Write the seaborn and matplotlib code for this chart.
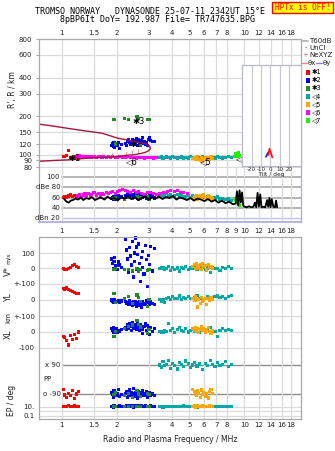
import matplotlib
matplotlib.use("Agg")
import matplotlib.pyplot as plt
import seaborn as sns
import pandas as pd
from matplotlib.ticker import FixedLocator, FixedFormatter, NullLocator
from matplotlib.lines import Line2D
from matplotlib.patches import Rectangle
import matplotlib.transforms as mtransforms

# ---------------- data ----------------
TITLE1 = "TROMSO NORWAY   DYNASONDE 25-07-11 2342UT 15°E"
TITLE2 = "8pBP6It DoY= 192.987 File= TR747635.BPG"

XT_TOP = [1, 1.5, 2, 3, 4, 5, 6, 7, 8, 10, 12, 14, 16, 18]
XT_DB = [1, 1.5, 2, 3, 4, 5, 6, 7, 8, 9, 10, 12, 14, 16, 18]
XT_BOT = [1, 1.5, 2, 3, 4, 5, 6, 7, 8, 10, 12, 14, 16, 18]
YT_TOP = [80, 90, 100, 120, 150, 200, 300, 400, 600, 800]
GROUP_LABELS = ["✱1", "✱2", "✱3", "◁4", "◁5", "◁6", "◁7"]

red_f = [1.02, 1.04, 1.06, 1.09, 1.11, 1.14, 1.17, 1.20, 1.23]
red_h = [97, 96, 98, 108, 95, 94, 96, 95, 94]
red_db = [60, 62, 61, 63, 65, 62, 64, 63, 61]
red_v = [-6, -12, -8, -2, 6, 14, 21, 9, 3]
red_yl = [70, 66, 75, 64, 58, 52, 46, 41, 40]
red_xl = [-30, -38, -52, -84, -22, -47, -14, -40, 0]
red_pp = [-62, -96, -112, -85, -102, -70, -118, -90, -76]
red_ep = [14, 16, 12, 20, 15, 13, 17, 14, 12]

blue_f = [1.87, 1.89, 1.91, 1.93, 1.95, 1.98, 2.01, 2.04, 2.08, 2.12,
          2.22, 2.26, 2.29, 2.32, 2.35, 2.38, 2.41, 2.43, 2.46, 2.49,
          2.51, 2.53, 2.56, 2.58, 2.61, 2.63, 2.66, 2.69, 2.72, 2.75,
          2.78, 2.82, 2.86, 2.90, 2.94, 2.98, 3.02, 3.06, 3.12, 3.22]
blue_h = [118, 122, 115, 124, 113, 120, 117, 125, 112, 119,
          122, 118, 126, 130, 124, 120, 127, 132, 119, 125,
          128, 122, 133, 126, 118, 130, 124, 121, 128, 135,
          123, 127, 120, 125, 118, 131, 135, 128, 126, 127]
blue_db = [58, 60, 62, 57, 61, 63, 59, 64, 60, 62,
           63, 60, 65, 67, 62, 64, 61, 66, 63, 60,
           65, 68, 62, 64, 59, 66, 63, 61, 64, 62,
           60, 63, 65, 58, 62, 60, 64, 61, 63, 59]
blue_v = [60, 30, -5, 45, 70, 15, -10, 40, 20, 5,
          190, 120, 60, -30, 135, 80, 20, 175, -60, 100,
          45, 200, 140, -10, 90, 160, 30, -90, 70, 110,
          5, -40, 150, 55, -120, 85, 25, 145, -20, 130]
blue_yl = [0, -10, -5, -15, 2, -8, -12, -3, -18, -6,
           -10, -20, -15, -30, -5, -25, -18, -35, -12, -22,
           -28, -8, -40, -15, -20, -33, -10, -25, -44, -18,
           -12, -30, -22, -5, -38, -15, -26, -10, -20, -30]
blue_xl = [20, 10, 30, 0, 15, 25, -5, 12, 5, 18,
           30, 15, 45, 25, 55, 35, 10, 60, 20, 40,
           28, 50, 15, 38, 65, 22, 8, 45, 30, -10,
           18, 35, 52, 12, 40, 25, -15, 30, 5, 20]
blue_pp = [-80, -95, -110, -70, -90, -100, -85, -60, -105, -92,
           -88, -75, -112, -96, -65, -102, -83, -94, -57, -108,
           -90, -78, -99, -86, -115, -72, -93, -104, -81, -97,
           -68, -89, -101, -76, -110, -92, -84, -98, -90, -100]
blue_ep = [12, 15, 10, 18, 13, 11, 16, 14, 20, 12,
           13, 17, 11, 15, 22, 12, 14, 19, 10, 16,
           13, 18, 12, 15, 11, 24, 14, 12, 17, 13,
           15, 11, 20, 14, 12, 16, 13, 18, 11, 14]

green_f = [1.93, 1.96, 2.20, 2.31, 2.45, 2.58, 2.63, 2.70, 2.95, 3.00]
green_h = [187, 121, 192, 189, 120, 199, 192, 118, 188, 189]
green_db = [58, 59, 57, 60, 58, 62, 57, 59, 61, 56]
green_v = [-9, -5, -12, -9, -20, -5, -20, -10, -15, -12]
green_yl = [42, -15, 10, 21, -20, 31, 15, -10, -40, 5]
green_xl = [-30, 5, 20, 35, 45, 77, 50, 32, -10, 15]
green_pp = [-95, -80, -100, -85, -110, -70, -90, -105, -88, -95]
green_ep = [12, 15, 11, 14, 13, 16, 12, 15, 11, 13]

teal_f = [3.42, 3.50, 3.58, 3.66, 3.75, 3.85, 3.95, 4.05, 4.15, 4.28,
          4.40, 4.52, 4.65, 4.78, 4.92, 5.05, 5.20, 5.35, 5.50, 5.70,
          5.90, 6.10, 6.30, 6.50, 6.70, 6.90, 7.10, 7.35, 7.60, 7.90,
          8.20, 8.45]
teal_h = [95, 96, 94, 95, 97, 95, 94, 96, 95, 93,
          95, 96, 94, 95, 94, 96, 95, 93, 94, 95,
          96, 94, 95, 93, 95, 94, 96, 95, 94, 95,
          96, 95]
teal_db = [66, 68, 64, 65, 67, 63, 65, 62, 64, 66,
           63, 65, 61, 62, 64, 60, 63, 61, 62, 59,
           61, 60, 62, 58, 60, 59, 61, 57, 58, 56,
           57, 55]
teal_v = [-5, 0, 5, -10, -3, 8, -15, 2, -8, 0,
          -20, 5, -5, 10, -12, 0, -3, 6, -10, -2,
          4, -8, 0, -27, 3, -6, -1, -14, 2, -5,
          13, -4]
teal_yl = [5, -10, 0, -15, 10, 15, 5, 20, 12, 8,
           25, 5, 15, 10, 20, 12, 8, 15, 30, 10,
           -5, 12, 20, 8, 15, 20, 25, 18, 22, 12,
           20, 28]
teal_xl = [5, 0, -5, 10, 3, 52, 8, 20, -3, 15,
           30, 12, 6, 25, 0, 10, 18, 5, 22, -6,
           12, 8, 15, 30, 10, 5, -30, 12, 20, 8,
           15, 10]
teal_pp = [90, 75, 110, 85, 95, 120, 70, 100, 88, 65,
           105, 92, 80, 115, 98, 72, 90, 108, 84, 96,
           62, 100, 89, 118, 93, 78, 104, 86, 95, 110,
           80, 92]
teal_ep = [12, 15, 10, 14, 11, 16, 13, 12, 15, 11,
           14, 12, 17, 13, 11, 15, 12, 14, 10, 13,
           16, 12, 11, 14, 13, 12, 15, 11, 13, 14,
           12, 16]

orange_f = [5.22, 5.30, 5.38, 5.46, 5.55, 5.63, 5.72, 5.80, 5.90, 6.00,
            6.10, 6.20, 6.32, 6.44, 6.56, 6.70]
orange_h = [93, 95, 91, 94, 96, 92, 90, 94, 89, 93, 95, 91, 94, 92, 96, 93]
orange_db = [58, 62, 60, 64, 57, 61, 63, 59, 62, 65, 60, 58, 63, 61, 59, 57]
orange_v = [10, 25, -5, 33, 15, 0, 20, -10, 30, 8, 18, -13, 22, 5, 12, -3]
orange_yl = [10, -5, 19, 0, -44, 5, -20, 15, -10, 0, 12, -30, 8, -5, 15, 3]
orange_xl = [20, 10, 30, 5, 25, -6, 15, 32, 10, 20, 0, 18, 28, 5, -10, 12]
orange_pp = [-60, -75, -90, -100, -70, -85, -110, -65, -95, -80, -105, -90, -115, -75, -62, -88]
orange_ep = [12, 18, 10, 14, 25, 11, 16, 13, 20, 12, 15, 11, 14, 22, 12, 13]

magenta_f = [1.22, 1.25, 1.28, 1.31, 1.34, 1.37, 1.40, 1.43, 1.46, 1.50,
             1.54, 1.58, 1.62, 1.66, 1.70, 1.75, 1.80, 1.85, 1.90, 1.96,
             2.02, 2.08, 2.15, 2.22, 2.30, 2.38, 2.46, 2.55, 2.64, 2.74,
             2.84, 2.95, 3.06, 3.18, 3.30, 3.45, 3.60, 3.78, 3.95, 4.12,
             4.30, 4.48, 4.66, 4.85]
magenta_h = [96, 98, 96, 95, 97, 95, 96, 96, 95, 96,
             95, 96, 96, 95, 96, 95, 96, 95, 96, 95,
             95, 96, 95, 95, 96, 95, 95, 94, 95, 95,
             94, 95, 95, 94, 95, 95, 94, 95, 95, 95,
             94, 95, 94, 95]
magenta_db = [63, 66, 62, 65, 68, 64, 67, 63, 66, 69,
              65, 67, 64, 68, 66, 70, 67, 69, 72, 68,
              71, 74, 76, 73, 72, 70, 74, 69, 71, 68,
              66, 69, 70, 67, 66, 68, 70, 72, 73, 71,
              74, 70, 69, 68]

lime_f = [8.80, 8.90, 9.00, 9.10, 9.20, 9.30, 9.40]
lime_h = [97, 102, 98, 100, 96, 103, 99]
lime_db = [58, 55, 60, 52, 50, 47, 45]

bl_f = [1.03, 1.06, 1.09, 1.12, 1.15, 1.19, 1.23, 1.27, 1.31, 1.36,
        1.41, 1.46, 1.52, 1.58, 1.64, 1.71, 1.78, 1.86, 1.94, 2.02,
        2.11, 2.20, 2.30, 2.40, 2.51, 2.62, 2.74, 2.86, 2.99, 3.12,
        3.26, 3.41, 3.56, 3.72, 3.89, 4.06, 4.24, 4.43, 4.63, 4.84,
        5.06, 5.29, 5.53, 5.78, 6.04, 6.31, 6.60, 6.90, 7.21, 7.54,
        7.88, 8.24, 8.61, 8.95, 9.10, 9.25, 9.40, 9.55, 9.70, 9.85,
        10.0, 10.3, 10.6, 10.9, 11.2, 11.4, 11.6, 11.8, 12.0, 12.2,
        12.4, 12.7, 13.0, 13.3, 13.5, 13.7, 13.9, 14.1, 14.4, 14.7,
        14.9, 15.1]
bl_db = [57, 52, 50, 54, 55, 58, 56, 60, 55, 59,
         57, 61, 55, 58, 60, 56, 62, 57, 59, 54,
         60, 58, 63, 57, 61, 55, 59, 62, 56, 60,
         58, 62, 57, 61, 59, 63, 56, 60, 58, 55,
         59, 54, 58, 56, 53, 57, 52, 55, 50, 54,
         49, 52, 47, 48, 72, 45, 74, 50, 70, 44,
         42, 41, 43, 41, 42, 50, 41, 69, 42, 66,
         41, 42, 41, 55, 42, 59, 41, 57, 42, 41,
         54, 41]

curve_f = [0.75, 0.90, 1.09, 1.35, 1.66, 2.04, 2.30, 2.52, 2.70, 2.86, 2.98, 3.05,
           3.04, 2.98, 2.86, 2.70, 2.52, 2.31, 2.05, 1.80, 1.55, 1.34, 1.09, 0.90, 0.75]
curve_h = [173, 167, 160, 153, 147, 134, 130, 126, 124, 122, 119, 114,
           110, 107, 104, 102, 100, 99, 97, 95.5, 94.5, 93.5, 91, 90, 88.7]

nexyz_f = [1.89, 2.24, 2.42, 2.60]
nexyz_h = [99, 102, 104, 107]

ann_labels = ["✱1", "✱2", "✱3", "◁5", "◁6", "◁7"]
ann_f = [1.17, 2.52, 2.65, 6.09, 2.40, 9.58]
ann_h = [94, 121, 180, 89, 89, 94]

thx_tilt = [-2.0, -1.0, 0.5, 2.2]
thx_h = [99, 111, 104, 95]
thy_tilt = [-4.6, -3.5, -2.2]
thy_h = [96, 100, 104]
TILT_T = [-20, -10, 0, 10, 20]

COL = {'1': '#ff0000', '2': '#0000ff', '3': '#228b22', '4': '#00a8a8',
       '5': '#ffa500', '6': '#ff00ff', '7': '#22ee00'}

# ---------------- figure ----------------
sns.set_theme(style="white")
plt.rcParams['font.family'] = ['DejaVu Sans']
plt.rcParams['axes.linewidth'] = 0.8

W, H = 335, 451
fig = plt.figure(figsize=(W / 100, H / 100), dpi=100)
fig.patch.set_facecolor('white')


def fx(x):
    return x / W


def fy(y):
    return 1 - y / H


def add_px(x0, y0, x1, y1):
    return fig.add_axes([x0 / W, 1 - y1 / H, (x1 - x0) / W, (y1 - y0) / H])


FS = 5
TXT = '#202020'
GRID = '#dadada'
SPINE = '#a8a8a8'
LAV = '#a8a8e0'
XLIM = (0.75, 20.4)
F1 = (61.7 - 39) / 262  # axes fraction of 1 MHz


def setup_x(ax, ticks, show, top=False, pad=2.5):
    ax.set_xscale('log')
    ax.xaxis.set_major_locator(FixedLocator(ticks))
    ax.xaxis.set_major_formatter(FixedFormatter([f"{t:g}" for t in ticks]))
    ax.xaxis.set_minor_locator(NullLocator())
    ax.grid(True, axis='x', color=GRID, lw=0.9)
    ax.set_axisbelow(True)
    if top:
        ax.xaxis.tick_top()
    ax.tick_params(axis='x', length=0, labelsize=FS, pad=pad, colors=TXT,
                   labelbottom=show and not top, labeltop=show and top)


def scat(ax, groups, s=5, clip=True):
    frames = [pd.DataFrame({'f': f, 'v': v, 'grp': g}) for g, f, v in groups]
    df = pd.concat(frames, ignore_index=True)
    sns.scatterplot(data=df, x='f', y='v', hue='grp', palette=COL, marker='s',
                    s=s, linewidth=0, legend=False, ax=ax, clip_on=clip)
    ax.set_xlabel('')
    ax.set_ylabel('')


def spines(ax, color, which):
    for k, sp in ax.spines.items():
        sp.set_visible(k in which)
        sp.set_color(color)
        sp.set_linewidth(0.9)


# ---- top panel ----
ax1 = add_px(39, 39, 301, 168)
ax1.set_yscale('log')
setup_x(ax1, XT_TOP, True, top=True, pad=2.5)
sns.lineplot(x=curve_f, y=curve_h, sort=False, estimator=None, color='#a3173b', lw=1.0, ax=ax1)
scat(ax1, [('1', red_f, red_h), ('2', blue_f, blue_h), ('3', green_f, green_h),
           ('6', magenta_f, magenta_h), ('4', teal_f, teal_h), ('5', orange_f, orange_h),
           ('7', lime_f, lime_h)])
sns.scatterplot(x=nexyz_f, y=nexyz_h, marker='$I$', color='#e8607f', s=14, linewidth=0, ax=ax1, legend=False)
for lab, f, h in zip(ann_labels, ann_f, ann_h):
    ax1.text(f, h, lab, fontsize=6, ha='center', va='center', color='black')
ax1.set_xlim(*XLIM)
ax1.set_ylim(78.6, 800)
ax1.yaxis.set_major_locator(FixedLocator(YT_TOP))
ax1.yaxis.set_major_formatter(FixedFormatter([str(t) for t in YT_TOP]))
ax1.yaxis.set_minor_locator(NullLocator())
ax1.grid(True, axis='y', color=GRID, lw=0.9)
ax1.tick_params(axis='y', left=True, length=2, width=0.8, labelsize=FS, pad=3)
ax1.tick_params(axis='y', colors=SPINE, labelcolor=TXT)
spines(ax1, SPINE, ['left', 'top', 'right'])

# ---- dB panel ----
ax2 = add_px(39, 168, 301, 222)
setup_x(ax2, XT_DB, True, pad=4)
for v in [40, 60, 80, 100]:
    ax2.axhline(v, xmin=F1, color='#b4b4b4', lw=1.4, zorder=0)
ax2.axhline(20, xmin=F1, color='#c0c0ee', lw=1.0, zorder=0)
sns.lineplot(x=bl_f, y=bl_db, sort=False, estimator=None, color='black', lw=1.3, ax=ax2)
scat(ax2, [('1', red_f, red_db), ('2', blue_f, blue_db), ('3', green_f, green_db),
           ('4', teal_f, teal_db), ('5', orange_f, orange_db), ('6', magenta_f, magenta_db),
           ('7', lime_f, lime_db)])
ax2.set_xlim(*XLIM)
ax2.set_ylim(12.2, 117.6)
ax2.set_yticks([])
btrans = mtransforms.blended_transform_factory(ax2.transAxes, ax2.transData)
for v, lab in zip([100, 80, 60, 40, 20], ['100', 'dBe 80', '60', '40', 'dBn 20']):
    ax2.text(F1 - 0.006, v, lab, transform=btrans, ha='right', va='center', fontsize=FS, color=TXT)
spines(ax2, SPINE, ['left'])
ax2.spines['bottom'].set_visible(True)
ax2.spines['bottom'].set_color(LAV)
ax2.spines['bottom'].set_linewidth(1.2)
ax2.spines['right'].set_visible(True)
ax2.spines['right'].set_color(LAV)

# ---- tilt inset ----
axi = add_px(242, 65, 301, 166)
axi.set_yscale('log')
sns.lineplot(x=thy_tilt, y=thy_h, sort=False, estimator=None, color='#1010ff', lw=1.2, ax=axi)
sns.lineplot(x=thx_tilt, y=thx_h, sort=False, estimator=None, color='#ff1010', lw=1.2, ax=axi)
axi.set_xlim(-30.4, 33)
axi.set_ylim(81.4, 501)
axi.set_xticks(TILT_T)
axi.set_xticklabels([str(t) for t in TILT_T])
axi.xaxis.set_minor_locator(NullLocator())
axi.set_yticks([])
axi.yaxis.set_minor_locator(NullLocator())
axi.grid(True, axis='x', color='#c8c8d4', lw=0.9)
axi.tick_params(axis='x', length=0, labelsize=4, pad=0.8, colors=TXT)
axi.set_xlabel('Tilt / deg', fontsize=4.3, labelpad=0, color=TXT)
axi.set_ylabel('')
spines(axi, '#b8b8cc', ['left', 'right', 'top', 'bottom'])

# ---- bottom panels ----
blocks = [
    ('V', 237, 276, (-53.3, 206.7), [0, 100], ['0', '100']),
    ('YL', 276, 308, (-50, 150), [0, 100], ['0', '+-100']),
    ('XL', 308, 356, (-154.8, 154.8), [-100, 0, 100], ['-100', '0', '+-100']),
    ('PP', 356, 401, (-133.5, 145.9), [], []),
    ('EP', 401, 419, (0.0215, 215), [0.1, 10], ['0.1', '10.']),
]
data_bottom = {
    'V': [('1', red_f, red_v), ('2', blue_f, blue_v), ('3', green_f, green_v),
          ('4', teal_f, teal_v), ('5', orange_f, orange_v)],
    'YL': [('1', red_f, red_yl), ('2', blue_f, blue_yl), ('3', green_f, green_yl),
           ('4', teal_f, teal_yl), ('5', orange_f, orange_yl)],
    'XL': [('1', red_f, red_xl), ('2', blue_f, blue_xl), ('3', green_f, green_xl),
           ('4', teal_f, teal_xl), ('5', orange_f, orange_xl)],
    'PP': [('1', red_f, red_pp), ('2', blue_f, blue_pp), ('3', green_f, green_pp),
           ('4', teal_f, teal_pp), ('5', orange_f, orange_pp)],
    'EP': [('1', red_f, red_ep), ('2', blue_f, blue_ep), ('3', green_f, green_ep),
           ('4', teal_f, teal_ep), ('5', orange_f, orange_ep)],
}
for name, y0, y1, lim, yt, yl in blocks:
    ax = add_px(39, y0, 301, y1)
    ax.set_facecolor('none')
    if name == 'EP':
        ax.set_yscale('log')
    setup_x(ax, XT_BOT, name == 'EP', pad=2.5)
    if name == 'PP':
        for v in [90, -90]:
            ax.axhline(v, xmin=F1, color='#8c8c8c', lw=1.0, zorder=0)
    if name == 'EP':
        for v in [0.1, 1, 10]:
            ax.axhline(v, color=GRID, lw=0.9, zorder=0)
    scat(ax, data_bottom[name], s=5, clip=False)
    ax.set_xlim(*XLIM)
    ax.set_ylim(*lim)
    ax.yaxis.set_minor_locator(NullLocator())
    ax.set_yticks(yt)
    ax.set_yticklabels(yl)
    ax.tick_params(axis='y', length=0, labelsize=FS, pad=3, colors=TXT)
    if name != 'EP':
        ax.grid(True, axis='y', color=GRID, lw=0.9)
    which = ['left', 'right']
    if name == 'V':
        which.append('top')
    if name == 'EP':
        which.append('bottom')
    spines(ax, SPINE, which)
    if name == 'PP':
        bt = mtransforms.blended_transform_factory(ax.transAxes, ax.transData)
        ax.text(F1 - 0.004, 90, 'x 90', transform=bt, ha='right', va='center', fontsize=FS, color=TXT)
        ax.text(F1 - 0.004, -90, 'o -90', transform=bt, ha='right', va='center', fontsize=FS, color=TXT)
        ax.text(0.015, 0, 'PP', transform=bt, ha='left', va='center', fontsize=FS, color=TXT)

# ---------------- texts ----------------
fig.text(fx(150), fy(12), TITLE1, family='DejaVu Sans Mono', fontsize=6, ha='center', va='center', color='black')
fig.text(fx(157), fy(20), TITLE2, family='DejaVu Sans Mono', fontsize=6, ha='center', va='center', color='black')
fig.add_artist(Rectangle((fx(272), fy(13)), 61 / W, 11 / H, transform=fig.transFigure,
                         facecolor='#ffff00', edgecolor='#ff0000', lw=1))
fig.text(fx(302.5), fy(7.5), 'HPTx is OFF!', family='DejaVu Sans Mono', fontsize=5.6,
         ha='center', va='center', color='#ff0000')

fig.text(fx(13), fy(90), "R', R / km", rotation=90, fontsize=5.5, ha='center', va='center', color=TXT)
fig.text(fx(8), fy(271), 'V*', rotation=90, fontsize=6, ha='center', va='center', color=TXT)
fig.text(fx(8), fy(258), 'm/s', rotation=90, fontsize=4.5, ha='center', va='center', color=TXT)
fig.text(fx(8), fy(297), 'YL', rotation=90, fontsize=5.5, ha='center', va='center', color=TXT)
fig.text(fx(8), fy(318), 'km', rotation=90, fontsize=5, ha='center', va='center', color=TXT)
fig.text(fx(8), fy(334), 'XL', rotation=90, fontsize=5.5, ha='center', va='center', color=TXT)
fig.text(fx(11), fy(400), 'EP / deg', rotation=90, fontsize=5.5, ha='center', va='center', color=TXT)
fig.text(fx(170), fy(439), 'Radio and Plasma Frequency / MHz', fontsize=5.5, ha='center', va='center', color=TXT)

# legend (right side)
fig.add_artist(Line2D([fx(302), fx(308)], [fy(41), fy(41)], color='#b0b0b0', lw=1.2, transform=fig.transFigure))
fig.text(fx(309), fy(41), 'T60dB', fontsize=5, va='center', color=TXT)
fig.text(fx(305), fy(48), '·', fontsize=5, ha='center', va='center', color='black')
fig.text(fx(309), fy(48), 'UnCl', fontsize=5, va='center', color=TXT)
fig.text(fx(305), fy(55), '+', fontsize=5, ha='center', va='center', color='#e8607f')
fig.text(fx(309), fy(55), 'NeXYZ', fontsize=5, va='center', color=TXT)
fig.add_artist(Line2D([fx(301.5), fx(306.5)], [fy(63), fy(63)], color='#ff8080', lw=1.0, transform=fig.transFigure))
fig.text(fx(307.5), fy(63), 'θx', fontsize=5, va='center', color=TXT)
fig.add_artist(Line2D([fx(315.5), fx(321.5)], [fy(63), fy(63)], color='#8080ff', lw=1.0, transform=fig.transFigure))
fig.text(fx(322.5), fy(63), 'θy', fontsize=5, va='center', color=TXT)
leg_y = [72.5, 80.5, 88.5, 96.5, 104.5, 112.5, 120.5]
for i, (lab, yy) in enumerate(zip(GROUP_LABELS, leg_y)):
    fig.add_artist(Rectangle((fx(306), fy(yy + 2)), 4 / W, 4 / H, transform=fig.transFigure,
                             facecolor=COL[str(i + 1)], edgecolor='none'))
    fig.text(fx(312), fy(yy), lab, fontsize=4.8, va='center', color='black')

fig.savefig('out.png', dpi=100, facecolor='white')
